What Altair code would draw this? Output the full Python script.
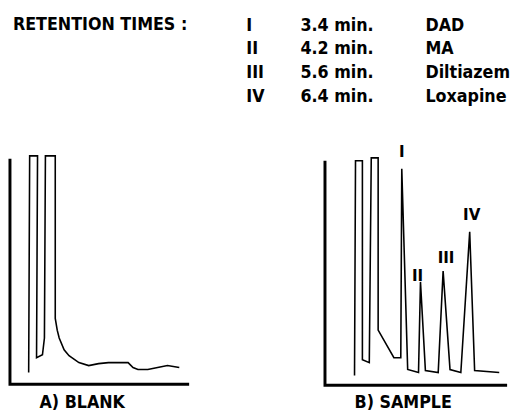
import altair as alt
import pandas as pd

# Chromatogram traces (figure coordinates: x to the right, y downward)
blank_x = [29, 30, 38, 37, 43, 45, 46, 56, 56, 58, 60, 65, 70, 80, 90, 100, 110, 130, 135, 140, 150, 160, 170, 182]
blank_y = [375, 155, 155, 360, 357, 340, 155, 155, 320, 332, 340, 352, 358, 365, 368, 366, 365, 365, 370, 372, 372, 370, 368, 370]

sample_x = [360, 361, 368, 368, 375, 377, 384, 384, 400, 407, 408, 414, 425, 427, 432, 445, 450, 457, 468, 477, 482, 507]
sample_y = [378, 160, 160, 362, 365, 157, 157, 332, 360, 360, 168, 372, 375, 283, 373, 375, 272, 372, 375, 232, 373, 375]

# Axes frames
axes_x = [10, 10, 192, None, 330, 330, 515]
axes_y = [158, 387, 387, None, 160, 388, 388]

peak_labels = ["I", "II", "III", "IV"]
peak_lx = [408, 424, 453, 479]
peak_ly = [151, 277, 259, 215]

header = "RETENTION TIMES :"
roman = ["I", "II", "III", "IV"]
times = ["3.4 min.", "4.2 min.", "5.6 min.", "6.4 min."]
compounds = ["DAD", "MA", "Diltiazem", "Loxapine"]
row_y = [23, 47, 71, 95]

panel_titles = ["A) BLANK", "B) SAMPLE"]
panel_tx = [40, 360]
panel_ty = [406, 406]

FONT = "'DejaVu Sans Condensed', 'DejaVu Sans', sans-serif"
xs = alt.Scale(domain=[8, 522])
ys = alt.Scale(domain=[417, 8])

def trace(xv, yv, name):
    return pd.DataFrame({"x": xv, "y": yv, "o": list(range(len(xv))), "s": name})

traces = pd.concat([trace(blank_x, blank_y, "A"), trace(sample_x, sample_y, "B")])

line = alt.Chart(traces).mark_line(color="black", strokeWidth=1.6, strokeJoin="miter").encode(
    x=alt.X("x:Q", scale=xs, axis=None),
    y=alt.Y("y:Q", scale=ys, axis=None),
    order="o:Q",
    detail="s:N",
)

ax_rows = []
for i, (a, b) in enumerate(zip(axes_x, axes_y)):
    if a is not None:
        ax_rows.append({"x": a, "y": b, "o": i, "s": "L" if i < 3 else "R"})
axes_df = pd.DataFrame(ax_rows)
axes = alt.Chart(axes_df).mark_line(color="black", strokeWidth=3, strokeJoin="miter").encode(
    x=alt.X("x:Q", scale=xs, axis=None),
    y=alt.Y("y:Q", scale=ys, axis=None),
    order="o:Q",
    detail="s:N",
)

def texts(df, **kw):
    return alt.Chart(df).mark_text(font=FONT, fontWeight="bold", color="black",
                                   baseline="middle", **kw).encode(
        x=alt.X("x:Q", scale=xs, axis=None),
        y=alt.Y("y:Q", scale=ys, axis=None),
        text="t:N",
    )

peaks = texts(pd.DataFrame({"x": peak_lx, "y": peak_ly, "t": peak_labels}), fontSize=17, align="center")
head = texts(pd.DataFrame({"x": [13], "y": [22], "t": [header]}), fontSize=18, align="left")
col1 = texts(pd.DataFrame({"x": [250] * 4, "y": row_y, "t": roman}), fontSize=18, align="left")
col2 = texts(pd.DataFrame({"x": [305] * 4, "y": row_y, "t": times}), fontSize=18, align="left")
col3 = texts(pd.DataFrame({"x": [432] * 4, "y": row_y, "t": compounds}), fontSize=18, align="left")
titles = texts(pd.DataFrame({"x": panel_tx, "y": panel_ty, "t": panel_titles}), fontSize=18, align="left")

chart = alt.layer(axes, line, peaks, head, col1, col2, col3, titles).properties(
    width=514, height=409, autosize=alt.AutoSizeParams(type="none"), padding=0
).configure_view(stroke=None)

chart.save("out.html", embed_options={"renderer": "svg", "actions": False})
